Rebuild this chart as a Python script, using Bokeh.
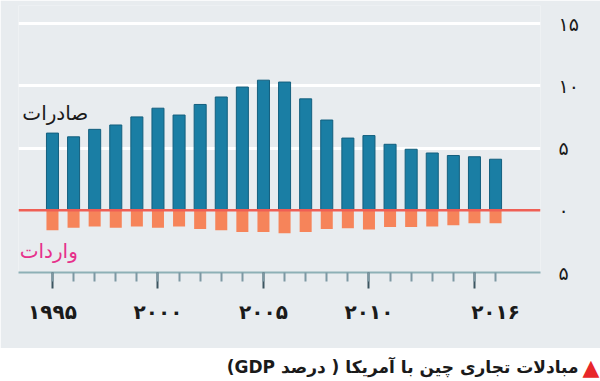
from bokeh.plotting import figure
from bokeh.models import (ColumnDataSource, FixedTicker, LinearAxis, Span, Label, Range1d)
from bokeh.layouts import column, row
from bokeh.embed import file_html
from bokeh.resources import INLINE

# ---- data ----
years = list(range(1995, 2017))
exports = [6.2, 5.9, 6.5, 6.85, 7.5, 8.2, 7.65, 8.5, 9.1, 9.9, 10.45, 10.3,
           8.95, 7.25, 5.8, 6.0, 5.3, 4.9, 4.6, 4.4, 4.3, 4.1]
imports = [-1.6, -1.4, -1.3, -1.4, -1.3, -1.4, -1.3, -1.5, -1.6, -1.75, -1.75, -1.85,
           -1.75, -1.5, -1.45, -1.55, -1.35, -1.35, -1.3, -1.2, -1.05, -1.05]
y_ticks = [-5, 0, 5, 10, 15]
y_tick_labels = ["۵", "۰", "۵", "۱۰", "۱۵"]
x_label_years = [1995, 2000, 2005, 2010, 2016]
x_labels = ["۱۹۹۵", "۲۰۰۰", "۲۰۰۵", "۲۰۱۰", "۲۰۱۶"]
major_tick_years = [1995, 2000, 2005, 2010, 2015]
export_label = "صادرات"
import_label = "واردات"
caption = "مبادلات تجاری چین با آمریکا ( درصد GDP)"

BG = "#e8ecef"
FONT = "DejaVu Sans"
RLE, PDF = "\u202b", "\u202c"

src = ColumnDataSource(dict(year=years, exp=exports, imp=imports))

p = figure(width=600, height=348, output_backend="svg", toolbar_location=None,
           x_range=Range1d(1993.39, 2018.13), y_range=Range1d(-5, 16.45),
           y_axis_location="right", x_axis_location="below",
           min_border_left=18, min_border_right=60, min_border_top=5,
           min_border_bottom=76)
p.background_fill_color = BG
p.border_fill_color = BG
p.outline_line_color = None
p.xgrid.visible = False

# y axis (right)
ya = p.yaxis[0]
ya.ticker = FixedTicker(ticks=y_ticks)
ya.major_label_overrides = {t: l for t, l in zip(y_ticks, y_tick_labels)}
ya.axis_line_color = None
ya.major_tick_line_color = None
ya.minor_tick_line_color = None
ya.major_tick_out = 0
ya.major_label_standoff = 18
ya.major_label_text_font = FONT
ya.major_label_text_font_size = "19px"
ya.major_label_text_color = "#1a1a1a"

p.ygrid.ticker = FixedTicker(ticks=[5, 10, 15])
p.ygrid.grid_line_color = "white"
p.ygrid.grid_line_width = 3

# x axis 1: line + ticks
xa = p.xaxis[0]
xa.ticker = FixedTicker(ticks=major_tick_years, minor_ticks=years)
xa.major_label_overrides = {t: "" for t in major_tick_years}
xa.major_label_text_font_size = "1px"
xa.major_label_standoff = 0
xa.axis_line_color = "#8db0b6"
xa.axis_line_width = 2
xa.major_tick_line_color = "#3c5561"
xa.major_tick_line_width = 2
xa.major_tick_out = 16
xa.major_tick_in = 0
xa.minor_tick_line_color = "#7d98a3"
xa.minor_tick_line_width = 2
xa.minor_tick_out = 9
xa.minor_tick_in = 0

# x axis 2: labels
xa2 = LinearAxis(ticker=FixedTicker(ticks=x_label_years))
xa2.major_label_overrides = {t: l for t, l in zip(x_label_years, x_labels)}
xa2.axis_line_color = None
xa2.major_tick_line_color = None
xa2.minor_tick_line_color = None
xa2.major_tick_out = 0
xa2.minor_tick_out = 0
xa2.major_label_standoff = 11
xa2.major_label_text_font = FONT
xa2.major_label_text_font_size = "20px"
xa2.major_label_text_font_style = "bold"
xa2.major_label_text_color = "#1a1a1a"
p.add_layout(xa2, "below")

# bars
p.vbar(x="year", top="exp", bottom=0, width=0.57, source=src,
       fill_color="#1a7ea4", line_color="#135f7e", line_width=1)
p.vbar(x="year", top=0, bottom="imp", width=0.57, source=src,
       fill_color="#f6845a", line_color=None)

# zero line
p.add_layout(Span(location=0, dimension="width", line_color="#ef5f55", line_width=2.5))

# series labels
p.add_layout(Label(x=1996.7, y=7.8, text=export_label, text_align="right",
                   text_baseline="middle", text_font=FONT, text_font_size="20px",
                   text_color="#1a1a1a"))
p.add_layout(Label(x=1996.2, y=-3.3, text=import_label, text_align="right",
                   text_baseline="middle", text_font=FONT, text_font_size="20px",
                   text_color="#e6318b"))

# caption strip
c = figure(width=600, height=33, output_backend="svg", toolbar_location=None,
           x_range=Range1d(0, 600), y_range=Range1d(0, 33),
           x_axis_location=None, y_axis_location=None,
           min_border_left=0, min_border_right=0, min_border_top=0, min_border_bottom=0)
c.grid.visible = False
c.outline_line_color = None
c.background_fill_color = "white"
c.border_fill_color = "white"
c.add_layout(Label(x=578, y=15, text=RLE + caption + PDF, text_align="right",
                   text_baseline="middle", text_font=FONT, text_font_size="17px",
                   text_font_style="bold", text_color="#1a1a1a"))
c.add_layout(Label(x=590.5, y=14, text="▲", text_align="center",
                   text_baseline="middle", text_font=FONT, text_font_size="22px",
                   text_color="#e8262a"))

layout = column(p, row(c, spacing=0), spacing=0)
open("out.html", "w").write(file_html(layout, INLINE))
